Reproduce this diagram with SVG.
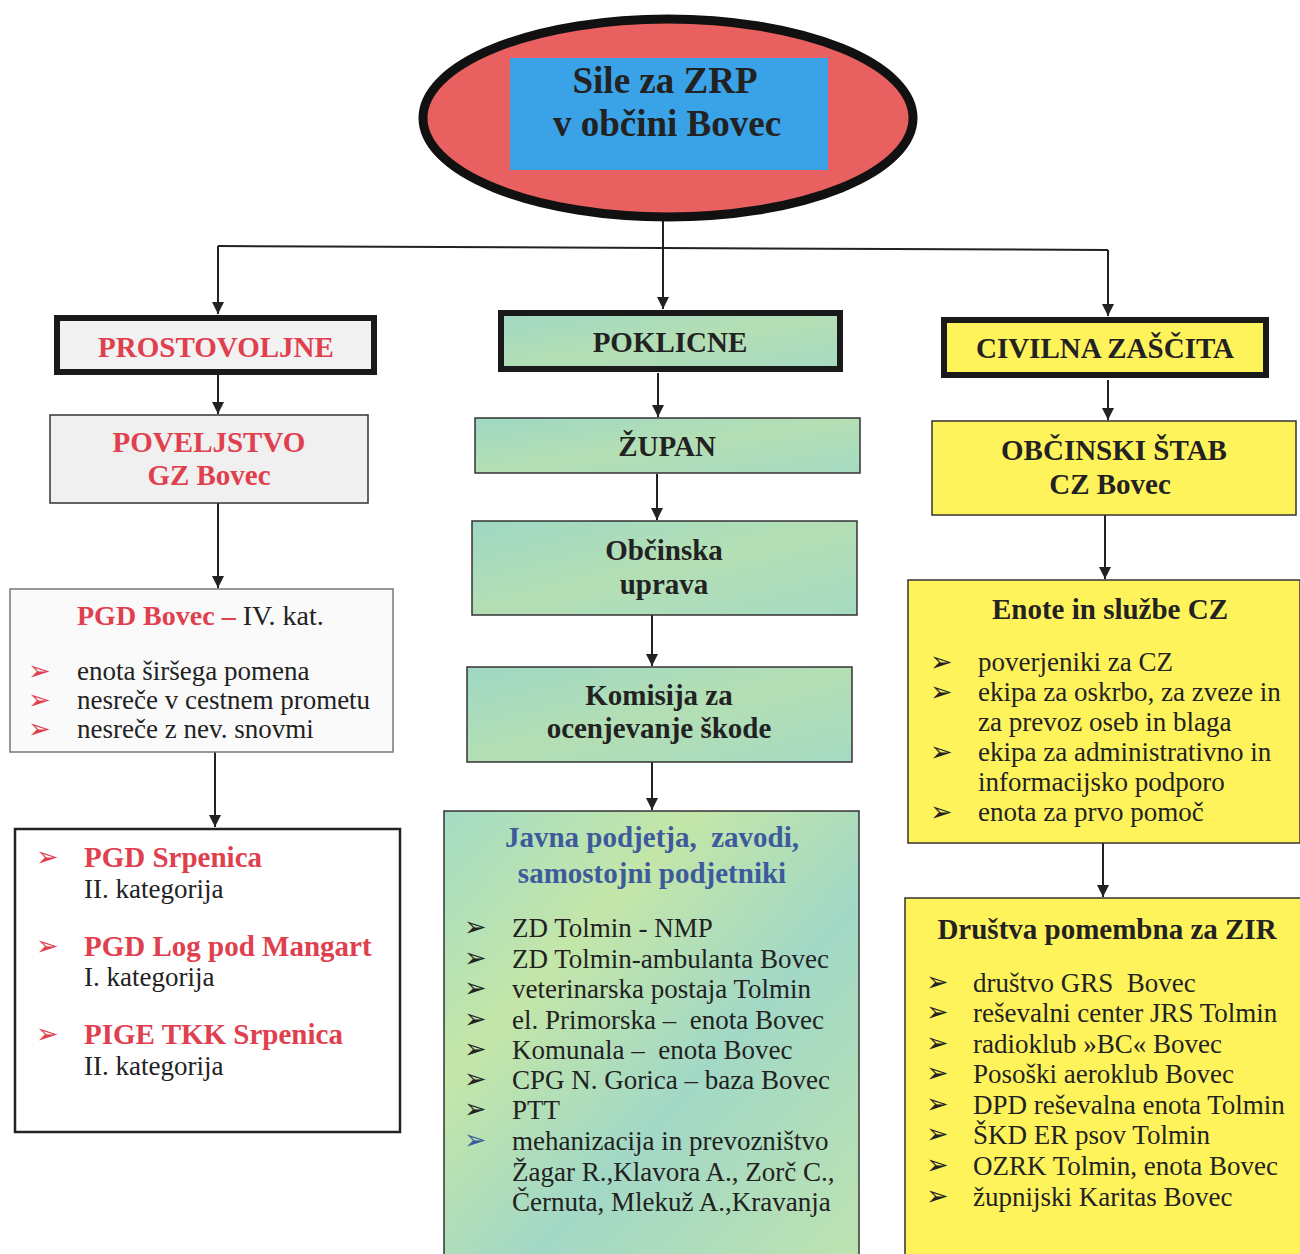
<svg xmlns="http://www.w3.org/2000/svg" width="1300" height="1254" viewBox="0 0 1300 1254">
<defs>
<marker id="ah" viewBox="0 0 10 10" refX="10" refY="5" markerWidth="13" markerHeight="12" markerUnits="userSpaceOnUse" orient="auto">
<path d="M0,0 L10,5 L0,10 z" fill="#222"/>
</marker>
<linearGradient id="grn" x1="0" y1="0" x2="1" y2="1">
<stop offset="0" stop-color="#9fd8c4"/>
<stop offset="0.5" stop-color="#b4dfb4"/>
<stop offset="1" stop-color="#a6dac2"/>
</linearGradient>
<linearGradient id="grn2" x1="0" y1="0" x2="1" y2="1">
<stop offset="0" stop-color="#a4dcc4"/>
<stop offset="0.3" stop-color="#c4e6a8"/>
<stop offset="0.6" stop-color="#a2d8c6"/>
<stop offset="1" stop-color="#bde3b0"/>
</linearGradient>
</defs>
<style>
text{font-family:"Liberation Serif","Times New Roman",serif;fill:#222;white-space:pre}
.h{font-weight:bold;font-size:29px;text-anchor:middle}
.t{font-size:27px}
.bl{font-size:27px}
.red{fill:#e0404e}
.blue{fill:#3c5a9c}
.thick{stroke:#1a1a1a;stroke-width:6}
.thin{stroke:#333;stroke-width:1.5}
.conn line,.conn polyline{stroke:#222;stroke-width:2;fill:none}
</style>
<rect width="1300" height="1254" fill="#ffffff"/>

<g class="conn" id="connectors">
<line x1="663" y1="220" x2="663" y2="247"/>
<polyline points="218,246 1108,250"/>
<line x1="218" y1="246" x2="218" y2="314" marker-end="url(#ah)"/>
<line x1="663" y1="247" x2="663" y2="309" marker-end="url(#ah)"/>
<line x1="1108" y1="250" x2="1108" y2="316" marker-end="url(#ah)"/>
<line x1="218" y1="375" x2="218" y2="414" marker-end="url(#ah)"/>
<line x1="658" y1="373" x2="658" y2="417" marker-end="url(#ah)"/>
<line x1="1108" y1="380" x2="1108" y2="420" marker-end="url(#ah)"/>
<line x1="218" y1="503" x2="218" y2="588" marker-end="url(#ah)"/>
<line x1="657" y1="474" x2="657" y2="520" marker-end="url(#ah)"/>
<line x1="1105" y1="515" x2="1105" y2="579" marker-end="url(#ah)"/>
<line x1="215" y1="752" x2="215" y2="827" marker-end="url(#ah)"/>
<line x1="652" y1="615" x2="652" y2="666" marker-end="url(#ah)"/>
<line x1="652" y1="762" x2="652" y2="810" marker-end="url(#ah)"/>
<line x1="1103" y1="843" x2="1103" y2="897" marker-end="url(#ah)"/>
</g>

<g id="root">
<ellipse cx="668" cy="118" rx="245" ry="99" fill="#e86060" stroke="#111" stroke-width="9"/>
<rect x="510" y="58" width="318" height="112" fill="#3aa2e6"/>
<text x="665" y="93" class="h" style="font-size:37px">Sile za ZRP</text>
<text x="667" y="136" class="h" style="font-size:37px">v občini Bovec</text>
</g>

<g id="prostovoljne">
<rect x="57" y="318" width="317" height="54" fill="#f2f2f2" class="thick"/>
<text x="216" y="357" class="h red">PROSTOVOLJNE</text>
</g>
<g id="poklicne">
<rect x="501" y="313" width="339" height="56" fill="url(#grn)" class="thick"/>
<text x="670" y="352" class="h">POKLICNE</text>
</g>
<g id="civilna">
<rect x="944" y="320" width="322" height="55" fill="#fff35c" class="thick"/>
<text x="1105" y="358" class="h">CIVILNA ZAŠČITA</text>
</g>

<g id="poveljstvo">
<rect x="50" y="415" width="318" height="88" fill="#f0f0f0" class="thin"/>
<text x="209" y="452" class="h red">POVELJSTVO</text>
<text x="209" y="485" class="h red">GZ Bovec</text>
</g>
<g id="zupan">
<rect x="475" y="418" width="385" height="55" fill="url(#grn)" class="thin"/>
<text x="667" y="456" class="h">ŽUPAN</text>
</g>
<g id="obcinski-stab">
<rect x="932" y="421" width="364" height="94" fill="#fff35c" class="thin"/>
<text x="1114" y="460" class="h">OBČINSKI ŠTAB</text>
<text x="1110" y="494" class="h">CZ Bovec</text>
</g>

<g id="pgd-bovec">
<rect x="10" y="589" width="383" height="163" fill="#fafafa" stroke="#777" stroke-width="1.5"/>
<text x="77" y="625" style="font-size:28px"><tspan class="red" font-weight="bold">PGD Bovec – </tspan><tspan>IV. kat.</tspan></text>
<text x="28" y="680" class="bl red">➢</text>
<text x="28" y="709" class="bl red">➢</text>
<text x="28" y="738" class="bl red">➢</text>
<text x="77" y="680" class="t">enota širšega pomena</text>
<text x="77" y="709" class="t">nesreče v cestnem prometu</text>
<text x="77" y="738" class="t">nesreče z nev. snovmi</text>
</g>

<g id="obcinska-uprava">
<rect x="472" y="521" width="385" height="94" fill="url(#grn)" class="thin"/>
<text x="664" y="560" class="h">Občinska</text>
<text x="664" y="594" class="h">uprava</text>
</g>
<g id="komisija">
<rect x="467" y="667" width="385" height="95" fill="url(#grn)" class="thin"/>
<text x="659" y="705" class="h">Komisija za</text>
<text x="659" y="738" class="h">ocenjevanje škode</text>
</g>

<g id="enote-cz">
<rect x="908" y="580" width="392" height="263" fill="#fff35c" class="thin"/>
<text x="1110" y="619" class="h">Enote in službe CZ</text>
<text x="930" y="671" class="bl">➢</text>
<text x="930" y="701" class="bl">➢</text>
<text x="930" y="761" class="bl">➢</text>
<text x="930" y="821" class="bl">➢</text>
<text x="978" y="671" class="t">poverjeniki za CZ</text>
<text x="978" y="701" class="t">ekipa za oskrbo, za zveze in</text>
<text x="978" y="731" class="t">za prevoz oseb in blaga</text>
<text x="978" y="761" class="t">ekipa za administrativno in</text>
<text x="978" y="791" class="t">informacijsko podporo</text>
<text x="978" y="821" class="t">enota za prvo pomoč</text>
</g>

<g id="pgd-list">
<rect x="15" y="829" width="385" height="303" fill="#ffffff" stroke="#222" stroke-width="2.5"/>
<text x="36" y="866" class="bl red">➢</text>
<text x="84" y="867" class="h red" style="text-anchor:start">PGD Srpenica</text>
<text x="84" y="898" class="t">II. kategorija</text>
<text x="36" y="955" class="bl red">➢</text>
<text x="84" y="956" class="h red" style="text-anchor:start">PGD Log pod Mangart</text>
<text x="84" y="986" class="t">I. kategorija</text>
<text x="36" y="1043" class="bl red">➢</text>
<text x="84" y="1044" class="h red" style="text-anchor:start">PIGE TKK Srpenica</text>
<text x="84" y="1075" class="t">II. kategorija</text>
</g>

<g id="javna-podjetja">
<rect x="444" y="811" width="415" height="450" fill="url(#grn2)" class="thin"/>
<text x="652" y="847" class="h blue">Javna podjetja,  zavodi,</text>
<text x="652" y="883" class="h blue">samostojni podjetniki</text>
<text x="464" y="936" class="bl">➢</text>
<text x="464" y="967" class="bl">➢</text>
<text x="464" y="997" class="bl">➢</text>
<text x="464" y="1028" class="bl">➢</text>
<text x="464" y="1058" class="bl">➢</text>
<text x="464" y="1088" class="bl">➢</text>
<text x="464" y="1118" class="bl">➢</text>
<text x="464" y="1149" class="bl blue">➢</text>
<text x="512" y="937" class="t">ZD Tolmin - NMP</text>
<text x="512" y="968" class="t">ZD Tolmin-ambulanta Bovec</text>
<text x="512" y="998" class="t">veterinarska postaja Tolmin</text>
<text x="512" y="1029" class="t">el. Primorska –  enota Bovec</text>
<text x="512" y="1059" class="t">Komunala –  enota Bovec</text>
<text x="512" y="1089" class="t">CPG N. Gorica – baza Bovec</text>
<text x="512" y="1119" class="t">PTT</text>
<text x="512" y="1150" class="t">mehanizacija in prevozništvo</text>
<text x="512" y="1181" class="t">Žagar R.,Klavora A., Zorč C.,</text>
<text x="512" y="1211" class="t">Černuta, Mlekuž A.,Kravanja</text>
</g>

<g id="drustva">
<rect x="905" y="898" width="400" height="370" fill="#fff35c" class="thin"/>
<text x="1107" y="939" class="h">Društva pomembna za ZIR</text>
<text x="926" y="991" class="bl">➢</text>
<text x="926" y="1021" class="bl">➢</text>
<text x="926" y="1052" class="bl">➢</text>
<text x="926" y="1082" class="bl">➢</text>
<text x="926" y="1113" class="bl">➢</text>
<text x="926" y="1143" class="bl">➢</text>
<text x="926" y="1174" class="bl">➢</text>
<text x="926" y="1205" class="bl">➢</text>
<text x="973" y="992" class="t">društvo GRS  Bovec</text>
<text x="973" y="1022" class="t">reševalni center JRS Tolmin</text>
<text x="973" y="1053" class="t">radioklub »BC« Bovec</text>
<text x="973" y="1083" class="t">Posoški aeroklub Bovec</text>
<text x="973" y="1114" class="t">DPD reševalna enota Tolmin</text>
<text x="973" y="1144" class="t">ŠKD ER psov Tolmin</text>
<text x="973" y="1175" class="t">OZRK Tolmin, enota Bovec</text>
<text x="973" y="1206" class="t">župnijski Karitas Bovec</text>
</g>
</svg>
